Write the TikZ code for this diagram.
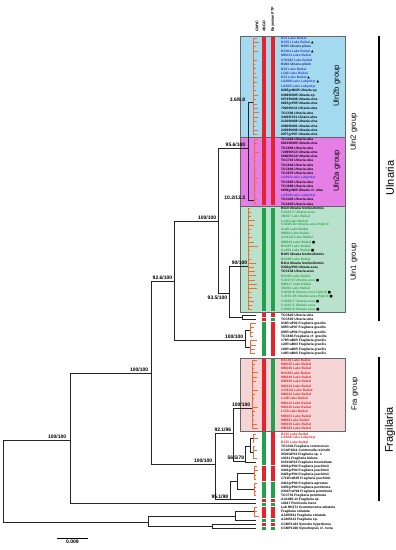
\documentclass[tikz,border=0pt]{standalone}
\usepackage{fontspec}
\setsansfont{Liberation Sans}
\newfontfamily\symfont{DejaVu Sans}
\usetikzlibrary{positioning,calc}
\definecolor{uln2b}{HTML}{A3DAF0}
\definecolor{uln2a}{HTML}{E57FE6}
\definecolor{uln1}{HTML}{B9E2CC}
\definecolor{fra}{HTML}{F4D4D4}
\definecolor{barred}{HTML}{E8212B}
\definecolor{bargreen}{HTML}{20A24C}
\definecolor{gmyc}{HTML}{F26A35}
\definecolor{lb}{HTML}{3B3BD0}
\definecolor{nv}{HTML}{2A2A80}
\definecolor{lg}{HTML}{2FA84F}
\definecolor{lr}{HTML}{E3242B}
\definecolor{bk}{gray}{0}
\newcommand\tri{{\color{black}\symfont ▲}}
\newcommand\sqr{{\color{black}\symfont ■}}
% orange GMYC comb: x, first tip y, last tip y, number of tips
\newcommand\gmyc[4]{%
  \draw[gm] (#1,#2) -- (#1,#3);
  \foreach \k in {1,...,#4}{
    \pgfmathsetmacro\yk{#2+(\k-1)*(#3-#2)/max(#4-1,1)}
    \pgfmathsetmacro\xk{#1+1.2+(259-#1-1.2)*rnd}
    \draw[gm] (#1,\yk) -- (\xk,\yk);
  }}

\begin{document}
\begin{tikzpicture}[x=1pt, y=-1pt,
  lbl/.style={font=\sffamily\bfseries\fontsize{3.3}{3.6}\selectfont, anchor=west, inner sep=0pt},
  sup/.style={font=\sffamily\bfseries\fontsize{5}{5}\selectfont, inner sep=0.6pt},
  hdr/.style={font=\sffamily\bfseries\fontsize{3.8}{4}\selectfont, rotate=90, anchor=west, inner sep=0pt},
  grp/.style={font=\sffamily\fontsize{7.6}{8}\selectfont, rotate=90, inner sep=0pt},
  big/.style={font=\sffamily\fontsize{11}{11}\selectfont, rotate=90, inner sep=0pt},
  box/.style={draw=gray!80!black, line width=0.7pt},
  br/.style={line width=0.9pt, black!85},
  gm/.style={line width=1pt, gmyc}
]
\useasboundingbox[fill=white] (0,0) rectangle (396,550);

% group boxes
\filldraw[box, fill=uln2b] (240,36) rectangle (345,137);
\filldraw[box, fill=uln2a] (240,137) rectangle (345,206);
\filldraw[box, fill=uln1] (240,206) rectangle (345,312);
\filldraw[box, fill=fra] (240,358) rectangle (345,431);

% column headers
\node[hdr] (hgmyc) at (257,32) {GMYC};
\node[hdr] (habgd) at (264,32) {ABGD};
\node[hdr] (hptp) at (273,32) {Bayesian PTP};

% species delimitation bars
\foreach \ya/\yb/\ca/\cb in {36.8/204.5/barred/barred, 207.5/311/bargreen/bargreen,
    313/317/barred/barred, 317.5/321/barred/bargreen, 322/355.5/bargreen/barred,
    358.5/430.5/barred/bargreen, 432/464.6/bargreen/barred, 465.6/481.1/barred/barred,
    482.1/497.5/bargreen/bargreen, 498.5/501.6/barred/barred, 502.6/505.7/bargreen/bargreen,
    506.7/518/barred/barred, 519/522.1/bargreen/bargreen, 523.1/526.2/barred/barred,
    527.2/530.3/bargreen/bargreen}{
  \fill[\ca] (262,\ya) rectangle (266,\yb);
  \fill[\cb] (271,\ya) rectangle (275,\yb);
}

% tip labels
\foreach \txt/\col [count=\i] in {BZ1 Lake Baikal/lb, BZ251 Lake Baikal \tri/lb,
    B155 Ulnaria pilum/nv, BZ264 Lake Baikal \tri/lb, MM121 Lake Baikal/lb,
    CH2042 Lake Baikal/lb, B160 Ulnaria pilum/nv, BZ6 Lake Baikal/lb, L202 Lake Baikal/lb,
    BZ3 Lake Baikal \tri/lb, LAB08 Lake Labynkyr \tri/lb, LAB05 Lake Labynkyr/lb,
    8205grN605 Ulnaria sp./bk, 8366fbN05 Ulnaria sp./bk, 0572fbN06 Ulnaria ulna/bk,
    0615grP05 Ulnaria ulna/bk, 7020fbK11 Ulnaria ulna/bk, TCC306 Ulnaria ulna/bk,
    3440fbT01 Ulnaria ulna/bk, 2130fbN06 Ulnaria ulna/bk, 2080fbN01 Ulnaria ulna/bk,
    2200fbN06 Ulnaria ulna/bk, 0977grP07 Ulnaria ulna/bk}
  \node[lbl, text=\col] (ub\i) at (281,{38.2+4.39*(\i-1)}) {\txt};
\foreach \txt/\col [count=\i] in {TCC426 Ulnaria ulna/bk, 6613fbN05 Ulnaria ulna/bk,
    TCC889 Ulnaria ulna/bk, 7209fbK13 Ulnaria ulna/bk, 0080fbK10 Ulnaria ulna/bk,
    TCC716 Ulnaria ulna/bk, TCC824 Ulnaria ulna/bk, TCC846 Ulnaria ulna/bk,
    TCC670 Ulnaria ulna/bk, LAB20 Lake Labynkyr/lb, TCC685 Ulnaria ulna/bk,
    TCC688 Ulnaria ulna/bk, 6659grN05 Ulnaria cf. ulna/bk, LAB09 Lake Labynkyr/lb,
    TCC403 Ulnaria ulna/bk, TCC835 Ulnaria ulna/bk}
  \node[lbl, text=\col] (ua\i) at (281,{139.2+4.31*(\i-1)}) {\txt};
\foreach \txt/\col [count=\i] in {B110 Ulnaria ferefusiformis/bk, 5-0227-F Ulnaria acus/lg,
    3B207 Lake Baikal/lg, L140 Lake Baikal/lg, 5-0228-1D Ulnaria acus Hybrid/lg,
    Au48 Lake Baikal/lg, MM90 Lake Baikal/lg, ACH112 Lake Baikal/lg,
    MM244 Lake Baikal \sqr/lg, BK487 Lake Baikal/lg, Au266 Lake Baikal \sqr/lg,
    B105 Ulnaria ferefusiformis/bk, BK486 Lake Baikal/lg, B114 Ulnaria ferefusiformis/bk,
    0320grP03 Ulnaria acus/bk, TCC104 Ulnaria acus/bk, BK405 Lake Baikal/lg,
    5-0227-E Ulnaria acus \sqr/lg, MM117 Lake Baikal/lg, 3B203 Lake Baikal/lg,
    5-0226-B Ulnaria acus Hybrid \sqr/lg, 5-0315-1B Ulnaria acus Hybrid \sqr/lg,
    5-0003-F Ulnaria acus \sqr/lg, 5-1015-C Ulnaria acus/lg, 5-0003-B Ulnaria acus \sqr/lg}
  \node[lbl, text=\col] (uo\i) at (281,{208.1+4.24*(\i-1)}) {\txt};
\foreach \txt [count=\i] in {TCC620 Ulnaria ulna, TCC505 Ulnaria ulna,
    018FraP02 Fragilaria gracilis, 085FraP07 Fragilaria gracilis,
    005FraP02 Fragilaria gracilis, TCC686 Fragilaria cf. gracilis,
    179FraB05 Fragilaria gracilis, 120FraB03 Fragilaria gracilis,
    180FraB05 Fragilaria gracilis, 149FraB05 Fragilaria gracilis}
  \node[lbl] (gr\i) at (281,{315+4.3*(\i-1)}) {\txt};
\foreach \txt [count=\i] in {BK140, MM105, MM246, BK488, MM240, MM245, MM144, ACH111,
    MM242, L149, MM113, MM110, L150, MM101, MM99, MM230, MM103}
  \node[lbl, text=lr] (fr\i) at (281,{360.1+4.29*(\i-1)}) {\txt{} Lake Baikal};
\foreach \txt/\col [count=\i] in {BZ15 Lake Baikal/lr, LAB06 Lake Labynkyr/lr,
    BZ35 Lake Baikal/lr, TCC301 Fragilaria crotonensis/bk,
    CCAP1011 Centronella reichelti/bk, 0520faP02 Fragilaria sp. 1/bk,
    s0331 Fragilaria bidens/bk, 0151faP02 Fragilaria tenuistriata/bk,
    0043grP04 Fragilaria joachimii/bk, 0443grP04 Fragilaria joachimii/bk,
    0425grP04 Fragilaria joachimii/bk, 1711FraB05 Fragilaria joachimii/bk,
    0413grP04 Fragilaria agrestae/bk, 0435grP04 Fragilaria perminuta/bk,
    0301FraP04 Fragilaria perminuta/bk, TCC752 Fragilaria perminuta/bk,
    AJA080-13 Fragilaria sp./bk, s0247 Pennisola inane/bk,
    Lab HK371 Grammonema striatula/bk, Fragilaria striatula/bk,
    AJ465011 Fragilaria striatula/bk, AJ465113 Fragilaria sp./bk,
    CCMP1423 Synedra hyperborea/bk, CCMP1026 Synedropsis cf. recta/bk}
  \node[lbl, text=\col] (ot\i) at (281,{434+4.1*(\i-1)}) {\txt};

% GMYC clusters
\pgfmathsetseed{11}
\gmyc{253}{38.2}{134.8}{23}
\gmyc{254}{139.2}{203.9}{16}
\gmyc{248}{208.1}{309.9}{25}
\gmyc{250}{323.6}{336.5}{4}
\gmyc{250}{340.8}{353.7}{4}
\gmyc{252}{360.1}{428.7}{17}
\gmyc{253}{434}{442.2}{3}
\gmyc{253}{446.3}{458.6}{4}
\gmyc{254}{466.8}{479.1}{4}
\gmyc{254}{483.2}{495.5}{4}
\gmyc{254}{507.8}{516}{3}

% tree nodes
\coordinate (root) at (3,480);
\coordinate (A) at (70,440);
\coordinate (S) at (148,522);
\coordinate (B) at (151,373);
\coordinate (C) at (174,281);
\coordinate (D) at (215,464);
\coordinate (U) at (218,221);
\coordinate (G) at (245,340);
\coordinate (U2) at (248,148);
\coordinate (U1p) at (229,293);
\coordinate (U2b) at (253,102);
\coordinate (U2a) at (254,200);
\coordinate (U1) at (248,266);
\coordinate (T) at (242,317);
\coordinate (t620) at (256,315);
\coordinate (t505) at (256,319.3);
\coordinate (G1) at (250,330);
\coordinate (G2) at (250,347.2);
\coordinate (E) at (233,433);
\coordinate (H) at (230,499.6);
\coordinate (Fr) at (252,408);
\coordinate (F) at (245,461);
\coordinate (F1) at (250,446);
\coordinate (bz) at (253,438.1);
\coordinate (F2) at (253,452.4);
\coordinate (t0151) at (256,462.7);
\coordinate (J) at (237,481);
\coordinate (K) at (254,473);
\coordinate (L) at (254,489.4);
\coordinate (taja) at (256,499.6);
\coordinate (ts0247) at (256,503.7);
\coordinate (M) at (235,516);
\coordinate (st) at (254,511.9);
\coordinate (t113) at (256,520.1);
\coordinate (N) at (212,526.3);
\coordinate (c1423) at (256,524.2);
\coordinate (c1026) at (256,528.3);

\foreach \p/\c in {root/A, root/S, A/B, A/ts0247, B/C, B/D, C/U, C/G, U/U2, U/U1p,
    U2/U2b, U2/U2a, U1p/U1, U1p/T, T/t620, T/t505, G/G1, G/G2, D/E, D/H, E/Fr, E/F,
    F/F1, F/t0151, F1/bz, F1/F2, H/J, H/taja, J/K, J/L, S/M, S/N, M/st, M/t113,
    N/c1423, N/c1026}
  \draw[br] (\p) |- (\c);

% support values
\node[sup, anchor=east] (sU2b) at (246,100) {3.6/9.8};
\node[sup, anchor=south east] (sU2) at (246,147) {95.6/100};
\node[sup, anchor=east] (sU2a) at (246,198) {10.2/13.3};
\node[sup, anchor=south east] (sU) at (217,220) {100/100};
\node[sup, anchor=south east] (sC) at (173,280) {92.6/100};
\node[sup, anchor=north east] (sU1p) at (228,295) {93.5/100};
\node[sup, anchor=south east] (sU1) at (248,265) {90/100};
\node[sup, anchor=south east] (sG) at (244,339) {100/100};
\node[sup, anchor=south east] (sB) at (149,372) {100/100};
\node[sup, anchor=south east] (sA) at (67,439) {100/100};
\node[sup, anchor=south east] (sD) at (213,463) {100/100};
\node[sup, anchor=south east] (sE) at (232,432) {92.1/96};
\node[sup, anchor=south east] (sFr) at (251,407) {100/100};
\node[sup, anchor=south east] (sF) at (245,460) {56.5/78};
\node[sup, anchor=south east] (sH) at (229,499) {95.1/98};

% group labels
\node[grp] (g2b) at (337,86) {Uln2b group};
\node[grp] (g2a) at (337,171) {Uln2a group};
\node[grp] (g2) at (354,132) {Uln2 group};
\node[grp] (g1) at (354,262) {Uln1 group};
\node[grp] (gfra) at (355,394) {Fra group};
\coordinate (ulnT) at (379,36);
\coordinate (ulnB) at (379,321);
\coordinate (fraT) at (379,357);
\coordinate (fraB) at (379,501);
\draw[line width=1.1pt] (ulnT) -- (ulnB);
\draw[line width=1.1pt] (fraT) -- (fraB);
\node[big] (gUln) at (390,178) {Ulnaria};
\node[big] (gFra) at (390,430) {Fragilaria};

% scale bar
\coordinate (sbL) at (57,538);
\coordinate (sbR) at (88,538);
\draw[line width=0.8pt] (sbL) -- (sbR);
\node[sup, below=1.5pt of $(sbL)!0.5!(sbR)$] (sbT) {0.009};
\end{tikzpicture}
\end{document}
